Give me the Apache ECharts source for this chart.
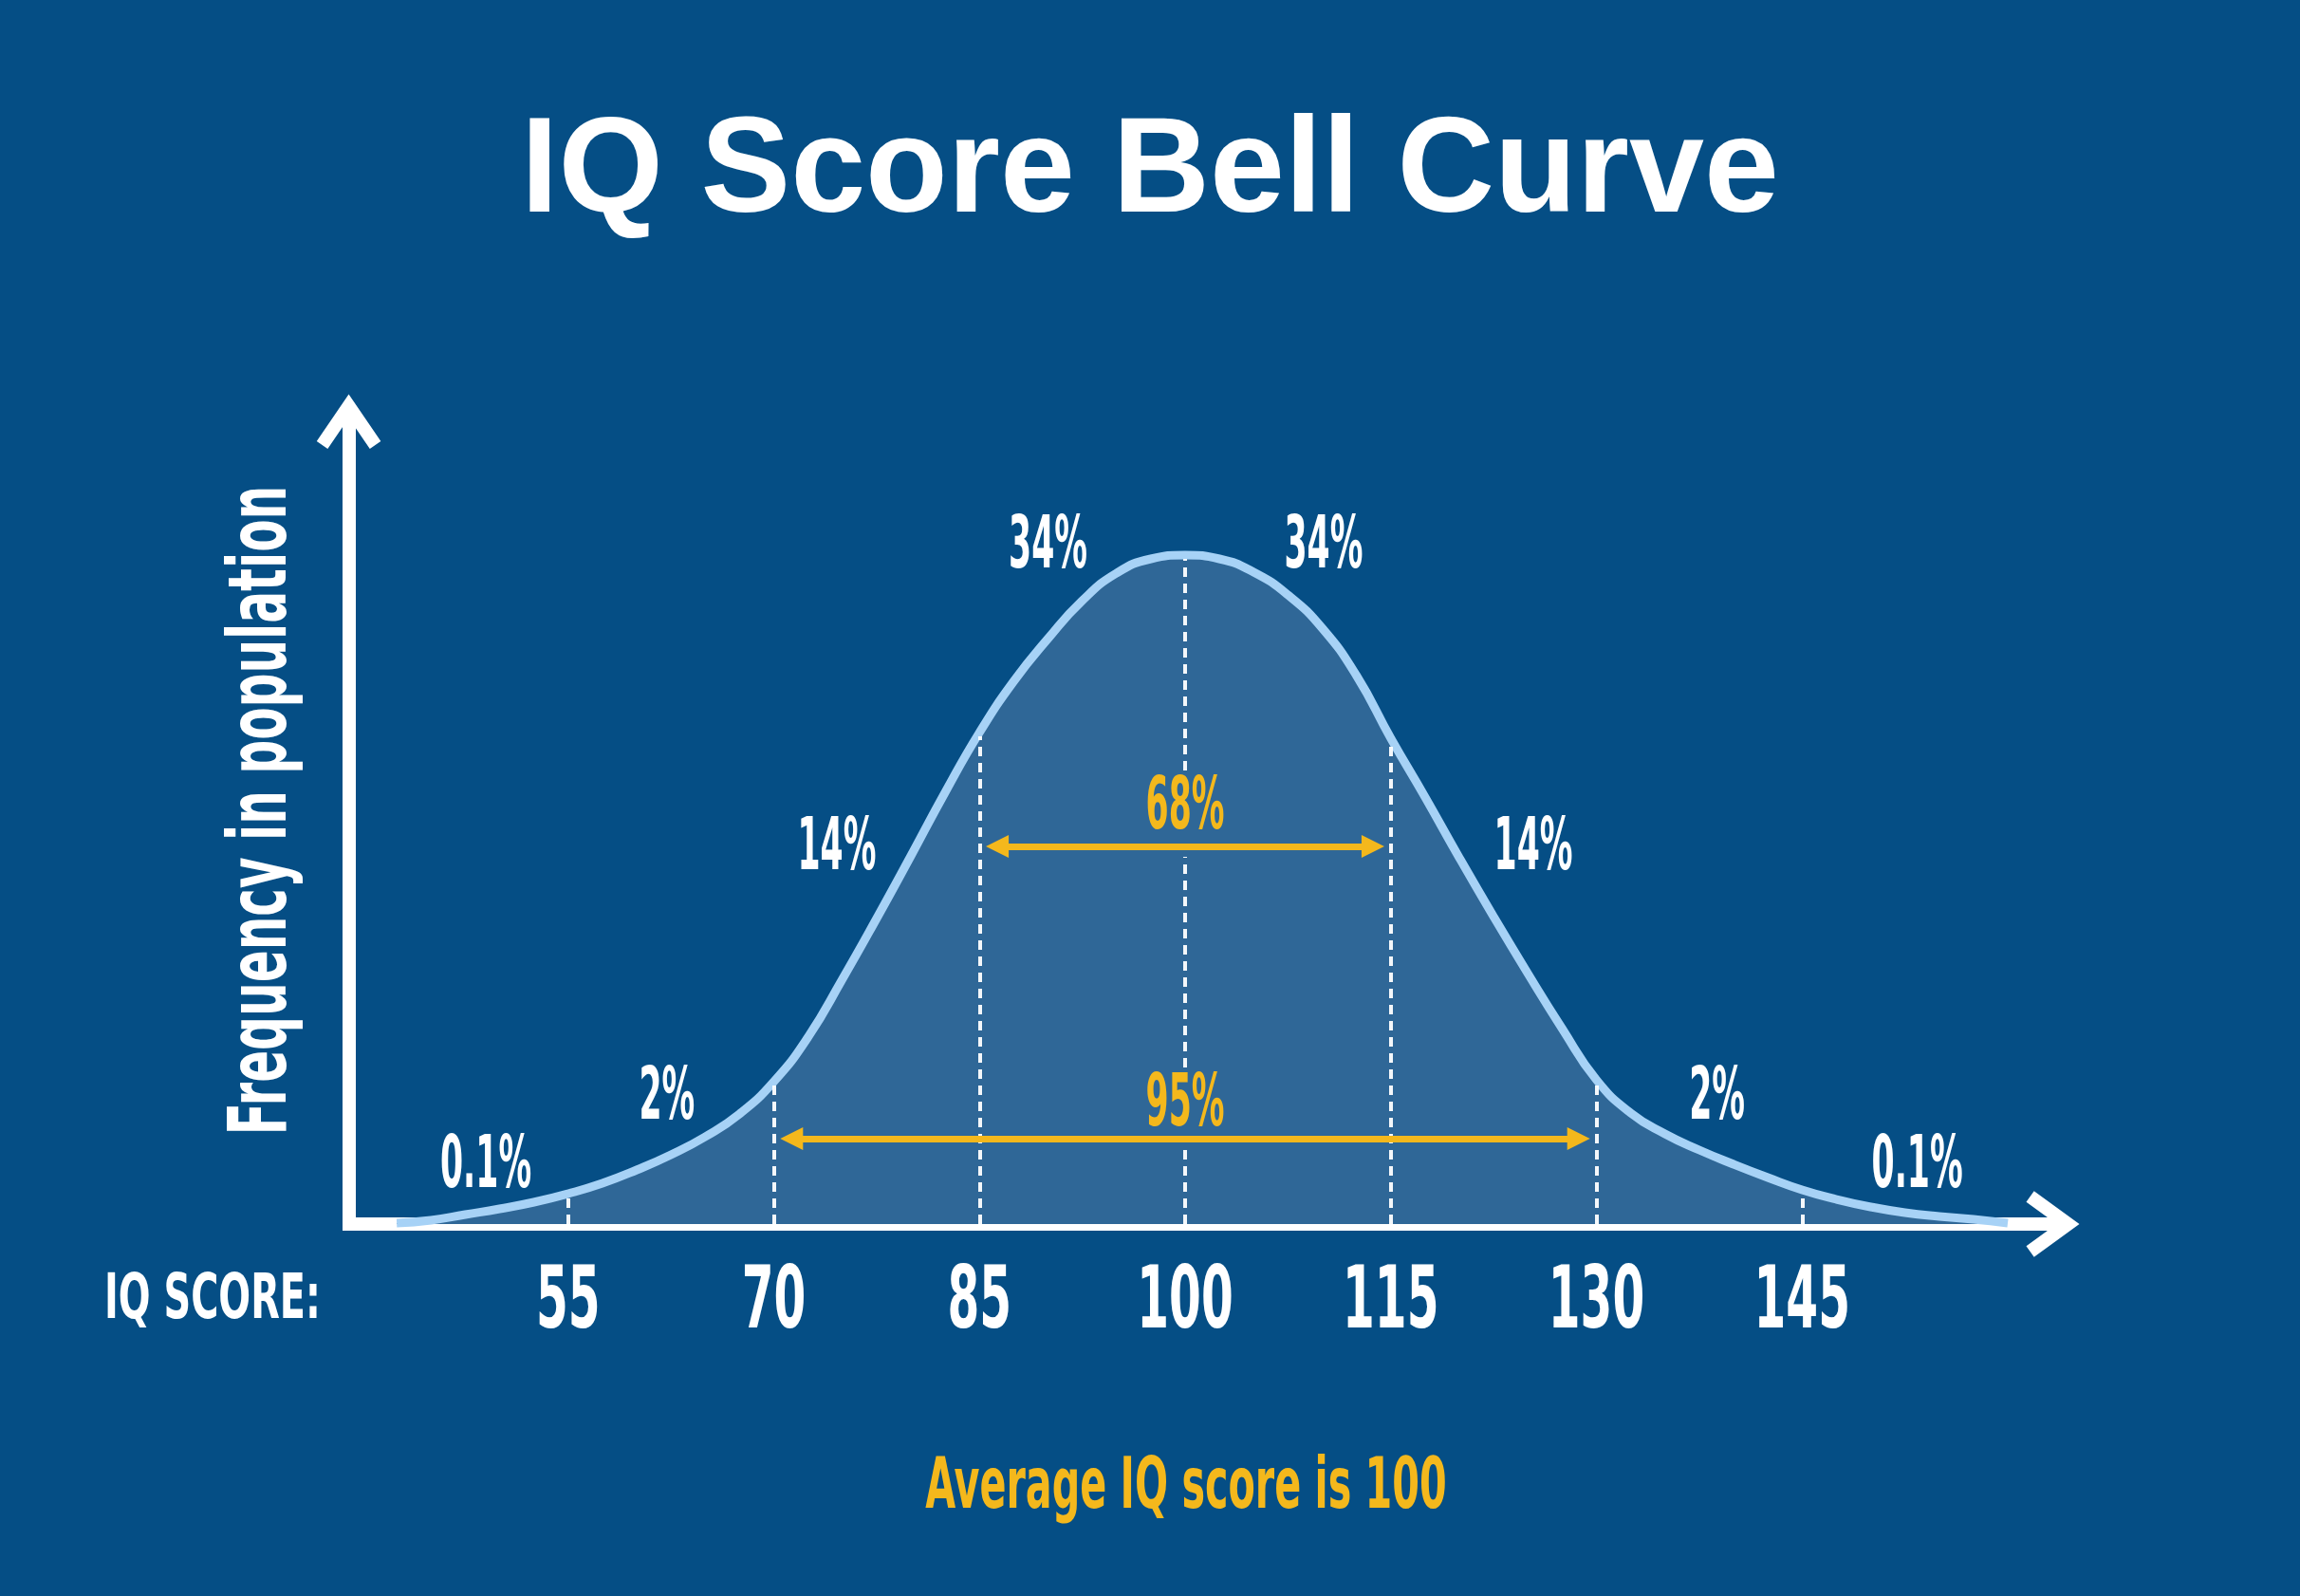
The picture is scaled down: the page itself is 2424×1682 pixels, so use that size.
<!DOCTYPE html>
<html>
<head>
<meta charset="utf-8">
<script src="https://cdn.jsdelivr.net/npm/echarts@6/dist/echarts.min.js"></script>
<style>
  html, body { margin: 0; padding: 0; background: #054E85; }
  #chart { width: 2424px; height: 1682px; }
</style>
</head>
<body>
<div id="chart"></div>
<script>
// ---------------- DATA ----------------
const iqScores = [42.5,45,47.5,50,52.5,55,57.5,60,62.5,65,67.5,70,72.5,75,77.5,80,82.5,85,87.5,90,92.5,95,97.5,100,
                  102.5,105,107.5,110,112.5,115,117.5,120,122.5,125,127.5,130,132.5,135,137.5,140,142.5,145,147.5,150,152.5,155,157.5,160];
const frequency = [1,4,10,16,23,32,43,57,73,92,116,150,197,258,322,388,455,518,572,617,657,686,701,705,
                   701,687,663,628,578,512,450,386,324,264,206,152,117,95,78,63,49,36,26,18,12,8,5,1];
const tickValues = [55,70,85,100,115,130,145];
const tickLabels = ['55','70','85','100','115','130','145'];
const regionLabels = ['0.1%','2%','14%','34%','34%','14%','2%','0.1%'];
const spanLabels = ['68%','95%'];
const spanRanges = [[85,115],[70,130]];

// ---------------- LAYOUT (positions in data units) ----------------
const regionLabelAnchors = [[49.0,59],[62.2,131],[74.6,394],[90.0,712],[110.1,712],[125.4,394],[138.8,131],[153.4,59]];
const spanLabelAnchors = [[100,437],[100,124]];
const spanArrowLevels = [398,90];
const arrowInset = 1.3;
const centerLineGaps = [[78,165],[387,478]];

const BG = '#054E85', FILL = '#2F6797', CURVE = '#A7D2F6', YELLOW = '#F4B81C', WHITE = '#FFFFFF';
const COND = "'DejaVu Sans Condensed','DejaVu Sans',sans-serif";

const curveData = iqScores.map((v, i) => [v, frequency[i]]);
const freqAt = v => frequency[iqScores.indexOf(v)];

// dashed guide lines from baseline up to the curve
const guideLines = [];
tickValues.forEach(v => {
  const top = freqAt(v) - 4;
  if (v === 100) {
    let start = 0;
    centerLineGaps.forEach(g => { guideLines.push([{coord:[v,start]},{coord:[v,g[0]]}]); start = g[1]; });
    guideLines.push([{coord:[v,start]},{coord:[v,top]}]);
  } else {
    guideLines.push([{coord:[v,0]},{coord:[v,top]}]);
  }
});

const arrowLines = spanRanges.map((r, i) => [
  {coord:[r[0] + arrowInset, spanArrowLevels[i]]},
  {coord:[r[1] - arrowInset, spanArrowLevels[i]]}
]);

const chart = echarts.init(document.getElementById('chart'), null, {renderer:'canvas'});

const option = {
  backgroundColor: BG,
  animation: false,
  title: {
    text: 'IQ Score Bell Curve',
    left: 'center',
    top: 108,
    textStyle: { color: WHITE, fontFamily: "'Liberation Sans',Arial,sans-serif", fontWeight: 'bold', fontSize: 142 }
  },
  grid: { left: 367.55, right: 244.42, top: 436, bottom: 392, containLabel: false },
  xAxis: {
    type: 'value', min: 39, max: 164.4,
    axisLine: { show: true, onZero: false, lineStyle: { color: WHITE, width: 14, cap: 'butt' } },
    axisTick: { show: false },
    splitLine: { show: false },
    axisLabel: { show: false }
  },
  yAxis: {
    type: 'value', min: 0, max: 854,
    axisLine: { show: true, onZero: false, lineStyle: { color: WHITE, width: 14, cap: 'square' } },
    axisTick: { show: false },
    splitLine: { show: false },
    axisLabel: { show: false }
  },
  series: [
    {
      type: 'line',
      name: 'Frequency',
      data: curveData,
      smooth: 0.5,
      symbol: 'none',
      lineStyle: { color: CURVE, width: 9 },
      areaStyle: { color: FILL, opacity: 1 },
      z: 3,
      markLine: {
        silent: true, animation: false,
        symbol: ['none','none'],
        label: { show: false },
        lineStyle: { color: WHITE, width: 4, type: [10, 7], opacity: 0.95 },
        emphasis: { disabled: true },
        data: guideLines
      }
    },
    {
      type: 'line',
      name: 'Spans',
      data: [],
      z: 4,
      markLine: {
        silent: true, animation: false,
        symbol: ['triangle','triangle'],
        symbolSize: [24, 24],
        label: { show: false },
        lineStyle: { color: YELLOW, width: 7, type: 'solid' },
        emphasis: { disabled: true },
        data: arrowLines
      }
    }
  ]
};
chart.setOption(option);

// ---------------- annotations ----------------
const P = (x, y) => chart.convertToPixel({gridIndex: 0}, [x, y]);
const txt = (text, pos, o) => ({
  type: 'text', x: pos[0], y: pos[1], scaleX: o.sx || 1, rotation: o.rot || 0, silent: true, z: 10,
  style: {
    text: text, x: 0, y: 0,
    align: 'center', verticalAlign: 'middle', textAlign: 'center', textVerticalAlign: 'middle',
    fill: o.color || WHITE,
    font: 'bold ' + o.size + 'px ' + (o.family || COND)
  }
});

const graphics = [];
// x-axis tick labels, placed through the axis scale
tickValues.forEach((v, i) => {
  const p = P(v, 0);
  graphics.push(txt(tickLabels[i], [p[0], p[1] + 86], {size: 90, sx: 0.6}));
});
regionLabels.forEach((t, i) => {
  const a = regionLabelAnchors[i];
  graphics.push(txt(t, P(a[0], a[1]), {size: 77, sx: 0.5}));
});
spanLabels.forEach((t, i) => {
  const a = spanLabelAnchors[i];
  graphics.push(txt(t, P(a[0], a[1]), {size: 77, sx: 0.5, color: YELLOW}));
});

// axis names and caption
graphics.push(txt('Frequency in population', [279, 854], {size: 85, sx: 0.655, rot: Math.PI / 2}));
graphics.push(txt('IQ SCORE:', [224, 1372], {size: 66, sx: 0.67}));
graphics.push(txt('Average IQ score is 100', [1250, 1570], {size: 74, sx: 0.62, color: YELLOW}));

// arrow heads on the axes
const origin = P(39, 0);
const xEnd = P(164.4, 0);
const yEnd = P(39, 854);
graphics.push({
  type: 'polyline', silent: true, z: 9,
  shape: { points: [[xEnd[0] - 40, origin[1] - 29], [xEnd[0], origin[1]], [xEnd[0] - 40, origin[1] + 29]] },
  style: { stroke: WHITE, lineWidth: 14, fill: null, lineJoin: 'miter', lineCap: 'butt' }
});
graphics.push({
  type: 'polyline', silent: true, z: 9,
  shape: { points: [[origin[0] - 28, yEnd[1] + 33], [origin[0], yEnd[1] - 8], [origin[0] + 28, yEnd[1] + 33]] },
  style: { stroke: WHITE, lineWidth: 14, fill: null, lineJoin: 'miter', lineCap: 'butt' }
});

chart.setOption({ graphic: { elements: graphics } });
</script>
</body>
</html>
